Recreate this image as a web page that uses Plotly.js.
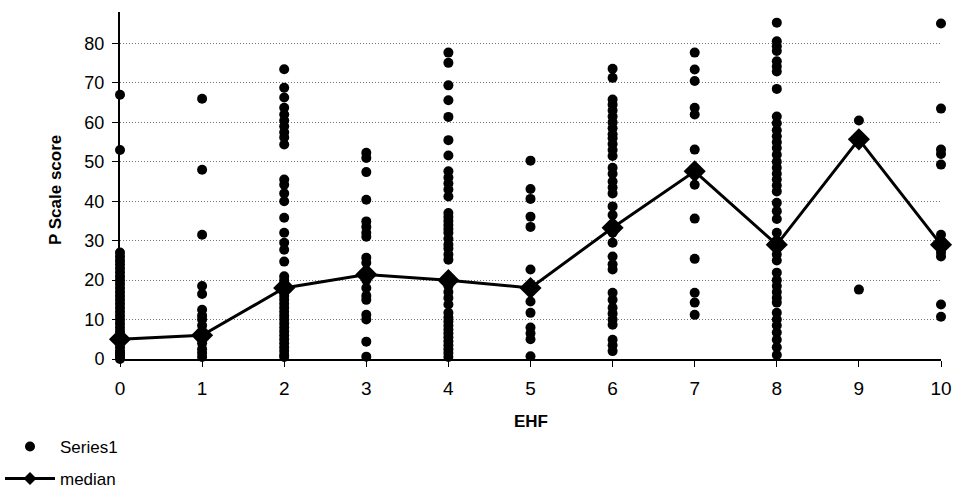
<!DOCTYPE html>
<html>
<head>
<meta charset="utf-8">
<script src="https://cdn.plot.ly/plotly-3.0.1.min.js"></script>
<style>
  html, body { margin: 0; padding: 0; background: #fff; }
  #chart { width: 953px; height: 488px; }
</style>
</head>
<body>
<div id="chart"></div>
<script>
// P Scale scores observed at each EHF level
const ehfLevels = [0, 1, 2, 3, 4, 5, 6, 7, 8, 9, 10];
const scoresEhf0 = [67, 53, 27, 26, 25, 24, 23, 22, 21, 20, 19, 18, 17, 16, 15, 14, 13, 12, 11, 10, 9, 8, 7, 6, 5, 5, 4, 3, 2, 1.5, 1, 0.5, 0];
const scoresEhf1 = [66, 48, 31.5, 18.5, 16.5, 12.5, 11, 10, 8.5, 7, 6.5, 5, 4, 2.5, 1.5, 0.5];
const scoresEhf2 = [73.5, 68.8, 66.3, 63.7, 62, 60.5, 59, 57.5, 56.2, 54.4, 45.5, 44.2, 42, 40, 35.8, 32, 29.5, 27.7, 24.7, 21, 20, 19, 18, 17, 16, 15, 14, 13, 12, 11, 10, 9, 8, 7, 6, 5, 4, 3, 2, 1, 0.5];
const scoresEhf3 = [52.3, 51, 47.4, 40.4, 34.9, 33.5, 32, 31, 25.7, 24.4, 22, 20, 18, 16, 15, 11.2, 10, 4.4, 0.6];
const scoresEhf4 = [77.7, 75.1, 69.4, 65.6, 61.4, 55.5, 51.6, 47.6, 46, 44.5, 43, 41.2, 37, 36, 35, 34, 33, 32, 30.5, 29, 28, 26.5, 25.2, 20, 18.5, 17, 15.5, 13.8, 11.7, 10.5, 9.5, 8.5, 7.5, 6.5, 5.5, 4.5, 3.5, 2.5, 1.5, 0.5];
const scoresEhf5 = [50.3, 43.1, 40.6, 36.1, 33.5, 22.7, 14.6, 11.7, 8, 6.5, 5, 0.7];
const scoresEhf6 = [73.6, 71.3, 65.8, 64.5, 63, 61.5, 60, 58.5, 57, 56, 54.5, 53, 51.5, 48.5, 47, 45, 43.5, 42, 38.7, 36.5, 32, 29.5, 26, 24, 22.7, 16.8, 15, 13, 11.5, 10, 8.7, 4.9, 3.5, 2];
const scoresEhf7 = [77.7, 73.4, 70.5, 63.7, 62, 53.1, 44.2, 35.6, 25.4, 16.8, 14.3, 11.2];
const scoresEhf8 = [85.3, 80.6, 79.3, 78.1, 75.5, 74.2, 72.9, 68.5, 61.5, 59.8, 58, 56.5, 55, 53.5, 51.8, 50, 48.5, 47, 45.5, 44, 42.5, 39.6, 37.5, 35.5, 32, 30, 28, 26.5, 25, 21.9, 20, 18.5, 17, 15.5, 14.3, 11.7, 10, 8.5, 6.7, 4.9, 3, 1];
const scoresEhf9 = [60.5, 17.6];
const scoresEhf10 = [85.1, 63.5, 53.1, 52, 49.3, 31.5, 28.5, 27, 26, 13.8, 10.7];

// Median P Scale score per EHF level
const medianScores = [5, 6, 18, 21.4, 20, 18, 33.3, 47.6, 29, 55.7, 29];

const yTicks = [0, 10, 20, 30, 40, 50, 60, 70, 80];

const scoreGroups = [scoresEhf0, scoresEhf1, scoresEhf2, scoresEhf3, scoresEhf4, scoresEhf5,
                     scoresEhf6, scoresEhf7, scoresEhf8, scoresEhf9, scoresEhf10];
const pointX = [];
const pointY = [];
scoreGroups.forEach((group, i) => {
  group.forEach(v => { pointX.push(ehfLevels[i]); pointY.push(v); });
});

const FONT = 'Liberation Sans, Arial, sans-serif';
const medianLine = { color: '#000', width: 3 };

const traces = [
  {
    type: 'scatter', mode: 'markers', name: 'Series1',
    x: pointX, y: pointY,
    marker: { symbol: 'circle', size: 10, color: '#000' },
    cliponaxis: false,
    legend: 'legend'
  },
  {
    type: 'scatter', mode: 'lines+markers', name: 'median',
    x: ehfLevels, y: medianScores,
    line: medianLine,
    marker: { symbol: 'diamond', size: 17, color: '#000' },
    cliponaxis: false,
    showlegend: false
  },
  // legend entry for the median line, drawn with a smaller diamond
  {
    type: 'scatter', mode: 'lines+markers', name: 'median',
    x: [null], y: [null],
    line: medianLine,
    marker: { symbol: 'diamond', size: 10, color: '#000' },
    legend: 'legend2'
  }
];

const layout = {
  width: 953, height: 488,
  margin: { l: 120, r: 12, t: 12, b: 129, autoexpand: false },
  paper_bgcolor: '#fff', plot_bgcolor: '#fff',
  font: { family: FONT, size: 17, color: '#000' },
  showlegend: true,
  xaxis: {
    range: [0, 10], tickvals: ehfLevels,
    showline: true, linecolor: '#000', linewidth: 1.5,
    ticks: 'outside', ticklen: 6, tickcolor: '#000', tickwidth: 1,
    ticklabelstandoff: 6,
    showgrid: false, zeroline: false,
    tickfont: { family: FONT, size: 19, color: '#000' }
  },
  yaxis: {
    range: [0, 88], tickvals: yTicks,
    showline: true, linecolor: '#000', linewidth: 2,
    ticks: 'outside', ticklen: 6, tickcolor: '#000', tickwidth: 1,
    ticklabelstandoff: 4,
    showgrid: true, gridcolor: '#777', griddash: '1px,2px', gridwidth: 1,
    zeroline: false,
    tickfont: { family: FONT, size: 18, color: '#000' }
  },
  annotations: [
    {
      text: '<b>P Scale score</b>', textangle: -90,
      xref: 'paper', yref: 'paper', x: -65 / 821, y: (359 - 190) / 347,
      xanchor: 'center', yanchor: 'middle', showarrow: false,
      font: { family: FONT, size: 17, color: '#000' }
    },
    {
      text: '<b>EHF</b>',
      xref: 'paper', yref: 'paper', x: 0.5, y: -(421 - 359) / 347,
      xanchor: 'center', yanchor: 'middle', showarrow: false,
      font: { family: FONT, size: 17, color: '#000' }
    }
  ],
  legend: {
    xref: 'container', yref: 'container',
    x: 0, y: 1 - 447 / 488, xanchor: 'left', yanchor: 'middle',
    font: { family: FONT, size: 17, color: '#000' },
    bgcolor: 'rgba(0,0,0,0)', itemwidth: 50
  },
  legend2: {
    xref: 'container', yref: 'container',
    x: 0, y: 1 - 479 / 488, xanchor: 'left', yanchor: 'middle',
    font: { family: FONT, size: 17, color: '#000' },
    bgcolor: 'rgba(0,0,0,0)', itemwidth: 50
  }
};

Plotly.newPlot('chart', traces, layout, { staticPlot: true, displayModeBar: false });
</script>
</body>
</html>
